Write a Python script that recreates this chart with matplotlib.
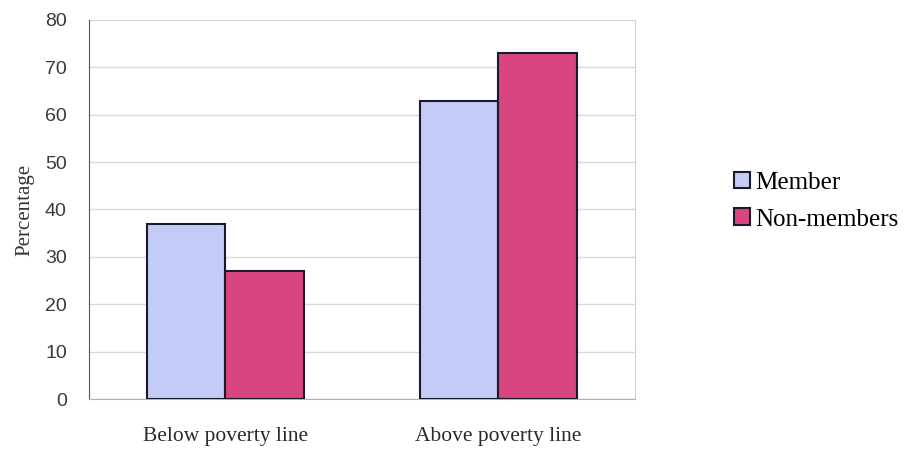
import matplotlib
matplotlib.use("Agg")
import matplotlib.pyplot as plt
from matplotlib.patches import Patch
import numpy as np

categories = ["Below poverty line", "Above poverty line"]
series_names = ["Member", "Non-members"]
member = [37, 63]
non_members = [27, 73]
yticks = [0, 10, 20, 30, 40, 50, 60, 70, 80]

colors = ["#C3CCF6", "#D9457E"]
edge = "#1a1a2e"

fig = plt.figure(figsize=(9.07, 4.5), dpi=100)
ax = fig.add_axes([0.0981, 0.1133, 0.602, 0.8423])

x = np.arange(len(categories))
w = 0.286
ax.bar(x - w/2, member, w, color=colors[0], edgecolor=edge, linewidth=1.5, zorder=3)
ax.bar(x + w/2, non_members, w, color=colors[1], edgecolor=edge, linewidth=1.5, zorder=3)

ax.set_xlim(-0.5, 1.5)
ax.set_ylim(0, 80)
ax.set_yticks(yticks)
ax.set_yticklabels([str(t) for t in yticks], family="Liberation Sans", fontsize=14, color="#3a3a3a")
ax.set_xticks(x)
ax.set_xticklabels(categories, family="Liberation Serif", fontsize=15.5, color="#2a2a2a")
ax.tick_params(axis="y", length=0, pad=16)
ax.tick_params(axis="x", length=0, pad=20)
ax.yaxis.grid(True, color="#d9d9d9", linewidth=1, zorder=0)
ax.set_axisbelow(True)
for s in ["top"]:
    ax.spines[s].set_visible(False)
ax.spines["right"].set_color("#d0d0d0")
ax.spines["bottom"].set_color("#b0b0b0")
ax.spines["left"].set_color("#555555")
ax.spines["left"].set_linewidth(0.8)

ax.set_ylabel("Percentage", family="Liberation Serif", fontsize=15, color="#333333")
ax.yaxis.set_label_coords(-0.10, 0.5)

handles = [Patch(facecolor=colors[i], edgecolor=edge, linewidth=1.5) for i in range(2)]
leg = fig.legend(handles, series_names, loc="center left", bbox_to_anchor=(0.795, 0.553),
                 prop={"family": "Liberation Serif", "size": 18}, frameon=False,
                 handlelength=0.65, handleheight=0.65, handletextpad=0.2, labelspacing=0.58,
                 borderpad=0.0)

fig.savefig("out.png", dpi=100)
